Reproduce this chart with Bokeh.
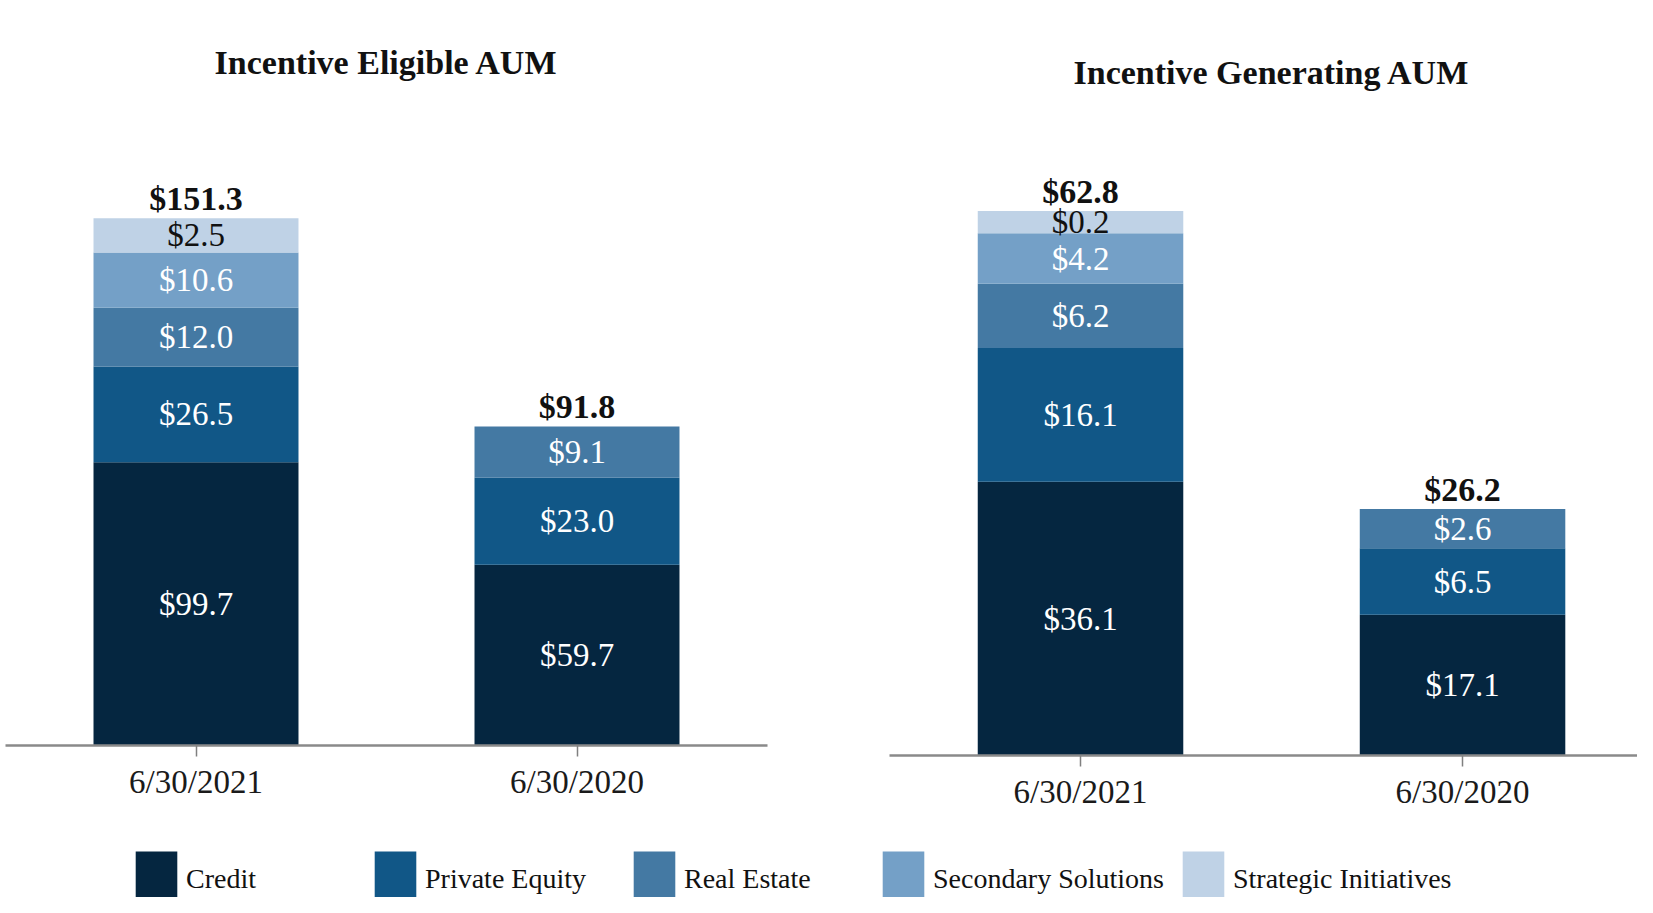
from bokeh.plotting import figure
from bokeh.models import Range1d, ColumnDataSource, Legend, LegendItem, FixedTicker, Spacer
from bokeh.layouts import column, row
from bokeh.embed import file_html
from bokeh.resources import INLINE
from bokeh.core.properties import value

# ---------------- data ----------------
dates = ["6/30/2021", "6/30/2020"]
series = ["Credit", "Private Equity", "Real Estate", "Secondary Solutions", "Strategic Initiatives"]

eligible_credit = [99.7, 59.7]
eligible_private_equity = [26.5, 23.0]
eligible_real_estate = [12.0, 9.1]
eligible_secondary_solutions = [10.6, None]
eligible_strategic_initiatives = [2.5, None]
eligible_total = [151.3, 91.8]

generating_credit = [36.1, 17.1]
generating_private_equity = [16.1, 6.5]
generating_real_estate = [6.2, 2.6]
generating_secondary_solutions = [4.2, None]
generating_strategic_initiatives = [0.2, None]
generating_total = [62.8, 26.2]

# ---------------- style ----------------
colors = ["#052640", "#115787", "#4479A3", "#74A0C7", "#BFD2E6"]
label_colors = ["#FFFFFF", "#FFFFFF", "#FFFFFF", "#FFFFFF", "#111111"]
SERIF = "Liberation Serif"
FIG_H = 825
BORDER_TOP = 80
BORDER_BOTTOM = 80


def make_chart(title, series_values, totals, width, bl, br, x_end, base, k,
               title_align="center", title_offset=0):
    frame_h = FIG_H - BORDER_TOP - BORDER_BOTTOM
    p = figure(
        title=title,
        x_range=Range1d(0, x_end),
        y_range=Range1d(0, frame_h),
        width=width, height=FIG_H,
        min_border_left=bl, min_border_right=br,
        min_border_top=BORDER_TOP, min_border_bottom=BORDER_BOTTOM,
        output_backend="svg", toolbar_location=None,
        y_axis_location=None,
    )
    p.outline_line_color = None
    p.grid.visible = False
    p.background_fill_color = "white"
    p.border_fill_color = "white"

    p.title.text_font = SERIF
    p.title.text_font_size = "34px"
    p.title.text_font_style = "bold"
    p.title.text_color = "#111111"
    p.title.align = title_align
    p.title.standoff = 0
    p.title.offset = title_offset

    # category positions: one slot per date
    xpos = [i + 0.5 for i in range(len(dates))]

    ax = p.xaxis[0]
    ax.ticker = FixedTicker(ticks=xpos)
    ax.major_label_overrides = {x: d for x, d in zip(xpos, dates)}
    ax.axis_line_color = "#8a8a8a"
    ax.axis_line_width = 2.5
    ax.major_tick_line_color = "#808080"
    ax.major_tick_line_width = 1.5
    ax.major_tick_in = 0
    ax.major_tick_out = 11
    ax.minor_tick_line_color = None
    ax.major_label_text_font = SERIF
    ax.major_label_text_font_size = "33px"
    ax.major_label_text_color = "#1a1a1a"
    ax.major_label_standoff = 7

    bottoms = [0.0] * len(dates)
    for name, vals, col, lcol in zip(series, series_values, colors, label_colors):
        xs, b, t, labels, mids = [], [], [], [], []
        for i, v in enumerate(vals):
            if v is None:
                continue
            h = base + k * v  # stylised (non-linear) segment height, as in the original
            xs.append(xpos[i])
            b.append(bottoms[i])
            t.append(bottoms[i] + h)
            mids.append(bottoms[i] + h / 2)
            labels.append(f"${v:.1f}")
            bottoms[i] += h
        src = ColumnDataSource(dict(x=xs, bottom=b, top=t, mid=mids, label=labels))
        p.vbar(x="x", bottom="bottom", top="top", width=0.538, source=src,
               fill_color=col, line_color=None)
        p.text(x="x", y="mid", text="label", source=src,
               text_align="center", text_baseline="middle",
               text_font=value(SERIF), text_font_size="33px", text_color=lcol)

    tsrc = ColumnDataSource(dict(x=xpos, y=bottoms, label=[f"${v:.1f}" for v in totals]))
    p.text(x="x", y="y", text="label", source=tsrc, y_offset=-1,
           text_align="center", text_baseline="bottom",
           text_font=value(SERIF), text_font_size="34px", text_font_style="bold",
           text_color="#111111")
    return p


p1 = make_chart(
    "Incentive Eligible AUM",
    [eligible_credit, eligible_private_equity, eligible_real_estate,
     eligible_secondary_solutions, eligible_strategic_initiatives],
    eligible_total,
    width=826, bl=5, br=59, x_end=2.0, base=28, k=2.56,
)
p2 = make_chart(
    "Incentive Generating AUM",
    [generating_credit, generating_private_equity, generating_real_estate,
     generating_secondary_solutions, generating_strategic_initiatives],
    generating_total,
    width=811, bl=63, br=0, x_end=1.958, base=21, k=7.0,
    title_align="left", title_offset=184,
)

# ---------------- legend ----------------
ROW_H = FIG_H + 10
LEG_H = 897 - ROW_H
GLYPH_W, GLYPH_H = 52, 70   # legend swatch is drawn inset by 10% on each side
pleg = figure(width=1637, height=LEG_H, x_range=Range1d(0, 1), y_range=Range1d(0, 1),
              min_border=0, output_backend="svg", toolbar_location=None,
              x_axis_location=None, y_axis_location=None)
pleg.outline_line_color = None
pleg.grid.visible = False
legend_x = [130, 369, 628, 877, 1177]
legend_top = 844 - ROW_H
for name, col, lx in zip(series, colors, legend_x):
    r = pleg.vbar(x=[0.5], bottom=[0], top=[0], width=0.1, fill_color=col, line_color=None)
    leg = Legend(items=[LegendItem(label=name, renderers=[r])],
                 location=(lx, LEG_H - legend_top - GLYPH_H),
                 glyph_width=GLYPH_W, glyph_height=GLYPH_H, label_standoff=4,
                 label_text_font=SERIF, label_text_font_size="28px",
                 label_text_color="#111111", padding=0, margin=0,
                 border_line_alpha=0, background_fill_alpha=0)
    pleg.add_layout(leg)

layout = column(row(p1, column(Spacer(width=811, height=10), p2)), pleg)
open("out.html", "w").write(file_html(layout, INLINE))
